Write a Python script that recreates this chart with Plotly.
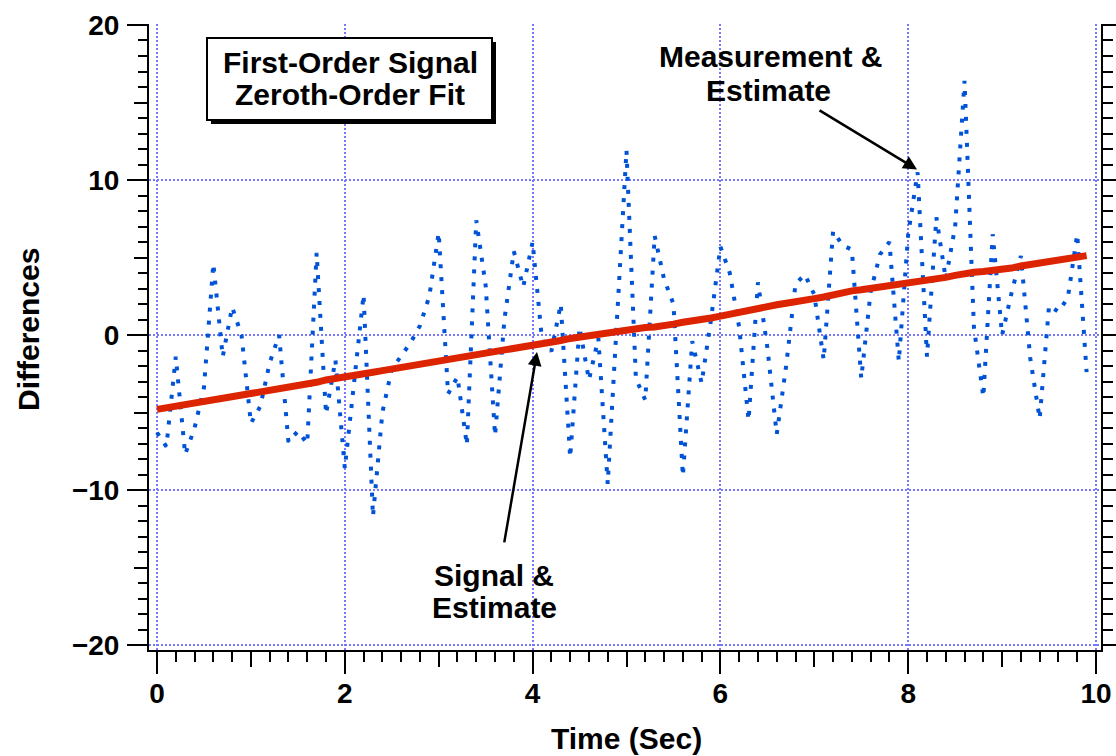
import plotly.graph_objects as go

# ---------------- data ----------------
time_s = [0.0, 0.1, 0.2, 0.3, 0.4, 0.5, 0.6, 0.7, 0.8, 0.9,
          1.0, 1.1, 1.2, 1.3, 1.4, 1.5, 1.6, 1.7, 1.8, 1.9,
          2.0, 2.1, 2.2, 2.3, 2.4, 2.5, 2.6, 2.7, 2.8, 2.9,
          3.0, 3.1, 3.2, 3.3, 3.4, 3.5, 3.6, 3.7, 3.8, 3.9,
          4.0, 4.1, 4.2, 4.3, 4.4, 4.5, 4.6, 4.7, 4.8, 4.9,
          5.0, 5.1, 5.2, 5.3, 5.4, 5.5, 5.6, 5.7, 5.8, 5.9,
          6.0, 6.1, 6.2, 6.3, 6.4, 6.5, 6.6, 6.7, 6.8, 6.9,
          7.0, 7.1, 7.2, 7.3, 7.4, 7.5, 7.6, 7.7, 7.8, 7.9,
          8.0, 8.1, 8.2, 8.3, 8.4, 8.5, 8.6, 8.7, 8.8, 8.9,
          9.0, 9.1, 9.2, 9.3, 9.4, 9.5, 9.6, 9.7, 9.8, 9.9]

measurement = [-6.3, -7.2, -1.4, -7.7, -6.0, -3.4, 4.6, -1.4, 1.8, 0.0,
               -5.7, -4.6, -1.8, 0.0, -6.9, -6.2, -7.0, 5.3, -5.1, -1.6,
               -8.6, -3.0, 2.6, -11.7, -5.0, -2.2, -1.3, -0.5, 0.6, 2.5,
               6.6, -3.8, -2.7, -7.1, 7.4, 3.2, -6.5, 1.0, 5.4, 3.1,
               6.0, -0.3, -1.05, 2.0, -7.9, 0.5, -2.9, -0.2, -9.6, 1.0,
               11.9, -2.8, -4.2, 6.4, 3.6, 2.0, -9.1, -0.4, -3.1, 1.0,
               5.7, 4.0, 0.5, -5.5, 3.4, -0.8, -6.4, -2.0, 3.3, 3.9,
               2.6, -1.6, 6.7, 5.8, 5.5, -2.8, 2.8, 5.2, 6.0, -1.7,
               6.5, 10.5, -1.4, 7.6, 3.6, 7.0, 16.4, 0.5, -4.0, 6.5,
               0.0, 2.7, 5.1, -1.5, -5.4, 1.9, 1.5, 2.4, 6.5, -2.4]

estimate = [-4.80, -4.70, -4.62, -4.50, -4.42, -4.25, -4.15, -4.10, -3.95, -3.90,
            -3.80, -3.70, -3.60, -3.45, -3.40, -3.30, -3.22, -3.05, -2.90, -2.82,
            -2.70, -2.62, -2.50, -2.40, -2.30, -2.20, -2.08, -1.98, -1.90, -1.80,
            -1.70, -1.58, -1.50, -1.40, -1.30, -1.20, -1.10, -1.00, -0.92, -0.82,
            -0.75, -0.60, -0.45, -0.35, -0.22, -0.12, -0.05, 0.02, 0.15, 0.25,
            0.32, 0.40, 0.48, 0.52, 0.58, 0.70, 0.82, 0.95, 1.02, 1.10,
            1.22, 1.35, 1.52, 1.65, 1.78, 1.85, 1.95, 2.05, 2.12, 2.22,
            2.35, 2.45, 2.62, 2.75, 2.85, 2.92, 3.00, 3.08, 3.15, 3.25,
            3.30, 3.42, 3.52, 3.62, 3.72, 3.85, 3.98, 4.05, 4.10, 4.15,
            4.22, 4.32, 4.45, 4.55, 4.65, 4.72, 4.80, 4.92, 5.02, 5.12]

x_mid_ticks = [1, 3, 5, 7, 9]
y_mid_ticks = [-15, -5, 5, 15]

# ---------------- style ----------------
BLUE = "rgb(0,82,214)"
RED = "rgb(221,36,0)"
GRID = "rgb(120,120,255)"
FONT = "Liberation Sans, Arial, Helvetica, sans-serif"
XR = [-0.0852, 10.0532]
YR = [-20.32, 20.064]

fig = go.Figure()
fig.add_trace(go.Scatter(x=time_s, y=measurement, mode="lines",
                         line=dict(color=BLUE, width=4, dash="4px,9px"),
                         showlegend=False, hoverinfo="skip"))
fig.add_trace(go.Scatter(x=time_s, y=estimate, mode="lines",
                         line=dict(color=RED, width=7),
                         showlegend=False, hoverinfo="skip"))

tickfont = dict(family=FONT, size=28, color="black", weight="bold")

fig.update_layout(
    width=1116, height=756,
    margin=dict(l=149, r=15, t=24, b=106),
    paper_bgcolor="white", plot_bgcolor="white",
    showlegend=False,
    xaxis=dict(range=XR, tick0=0, dtick=2, ticks="outside", ticklen=22, tickwidth=2,
               tickcolor="black", showline=True, linecolor="black", linewidth=2,
               showgrid=True, gridcolor=GRID, gridwidth=2, griddash="2px,2px",
               zeroline=False, tickfont=tickfont, ticklabelstandoff=-5,
               automargin=False,
               minor=dict(dtick=0.2, tick0=0, ticks="outside", ticklen=10,
                          tickwidth=2, tickcolor="black", showgrid=False)),
    xaxis2=dict(range=XR, overlaying="x", anchor="y", side="bottom",
                tickmode="array", tickvals=x_mid_ticks, ticks="outside",
                ticklen=16, tickwidth=2, tickcolor="black",
                showticklabels=False, showgrid=False, showline=False,
                zeroline=False, automargin=False),
    yaxis=dict(range=YR, tick0=0, dtick=10, ticks="outside", ticklen=20, tickwidth=2,
               tickcolor="black", showline=True, linecolor="black", linewidth=2,
               showgrid=True, gridcolor=GRID, gridwidth=2, griddash="2px,2px",
               zeroline=False, tickfont=tickfont, ticklabelstandoff=2,
               automargin=False,
               minor=dict(dtick=1, tick0=0, ticks="outside", ticklen=9,
                          tickwidth=2, tickcolor="black", showgrid=False)),
    yaxis2=dict(range=YR, overlaying="y", anchor="x", side="left",
                tickmode="array", tickvals=y_mid_ticks, ticks="outside",
                ticklen=14, tickwidth=2, tickcolor="black",
                showticklabels=False, showgrid=False, showline=False,
                zeroline=False, automargin=False),
    yaxis3=dict(range=YR, overlaying="y", anchor="x", side="right",
                tick0=0, dtick=10, ticks="outside", ticklen=15, tickwidth=2,
                tickcolor="black", showticklabels=False, showgrid=False,
                showline=True, linecolor="black", linewidth=2,
                zeroline=False, automargin=False,
                minor=dict(dtick=1, tick0=0, ticks="outside", ticklen=10,
                           tickwidth=2, tickcolor="black", showgrid=False)),
)

# invisible helpers so the overlay axes are drawn
fig.add_trace(go.Scatter(x=[], y=[], xaxis="x2", yaxis="y", showlegend=False))
fig.add_trace(go.Scatter(x=[], y=[], xaxis="x", yaxis="y2", showlegend=False))
fig.add_trace(go.Scatter(x=[], y=[], xaxis="x", yaxis="y3", showlegend=False))

# ---------------- title box ----------------
def px_x(p):
    return (p - 149) / 952.0

def px_y(p):
    return (650 - p) / 626.0

fig.add_shape(type="rect", xref="paper", yref="paper",
              x0=px_x(211), x1=px_x(496), y0=px_y(124), y1=px_y(42),
              fillcolor="black", line=dict(width=0), layer="above")
fig.add_shape(type="rect", xref="paper", yref="paper",
              x0=px_x(207), x1=px_x(492), y0=px_y(120), y1=px_y(38),
              fillcolor="white", line=dict(color="black", width=2), layer="above")

afont = dict(family=FONT, size=30, color="black", weight="bold")
labels = [
    ("First-Order Signal", 350, 62),
    ("Zeroth-Order Fit", 350, 95),
    ("Measurement &", 770, 56),
    ("Estimate", 768, 90),
    ("Signal &", 494, 575),
    ("Estimate", 494, 607),
]
for txt, cx, cy in labels:
    fig.add_annotation(text=txt, xref="paper", yref="paper", x=px_x(cx), y=px_y(cy),
                       xanchor="center", yanchor="middle", showarrow=False, font=afont)

# arrows
fig.add_annotation(x=8.094, y=10.68, xref="x", yref="y", text="", showarrow=True,
                   ax=-99, ay=-60, arrowhead=2, arrowsize=1.1, arrowwidth=2.5,
                   arrowcolor="black", standoff=0)
fig.add_annotation(x=4.047, y=-1.09, xref="x", yref="y", text="", showarrow=True,
                   ax=-33, ay=192, arrowhead=2, arrowsize=1.1, arrowwidth=2.5,
                   arrowcolor="black", standoff=0)

# axis titles
tfont = dict(family=FONT, size=30, color="black", weight="bold")
fig.add_annotation(text="Time (Sec)", xref="paper", yref="paper", x=px_x(626), y=px_y(738),
                   xanchor="center", yanchor="middle", showarrow=False, font=tfont)
fig.add_annotation(text="Differences", xref="paper", yref="paper", x=px_x(28), y=px_y(330),
                   xanchor="center", yanchor="middle", showarrow=False, font=tfont,
                   textangle=-90)

fig.write_html("out.html")
